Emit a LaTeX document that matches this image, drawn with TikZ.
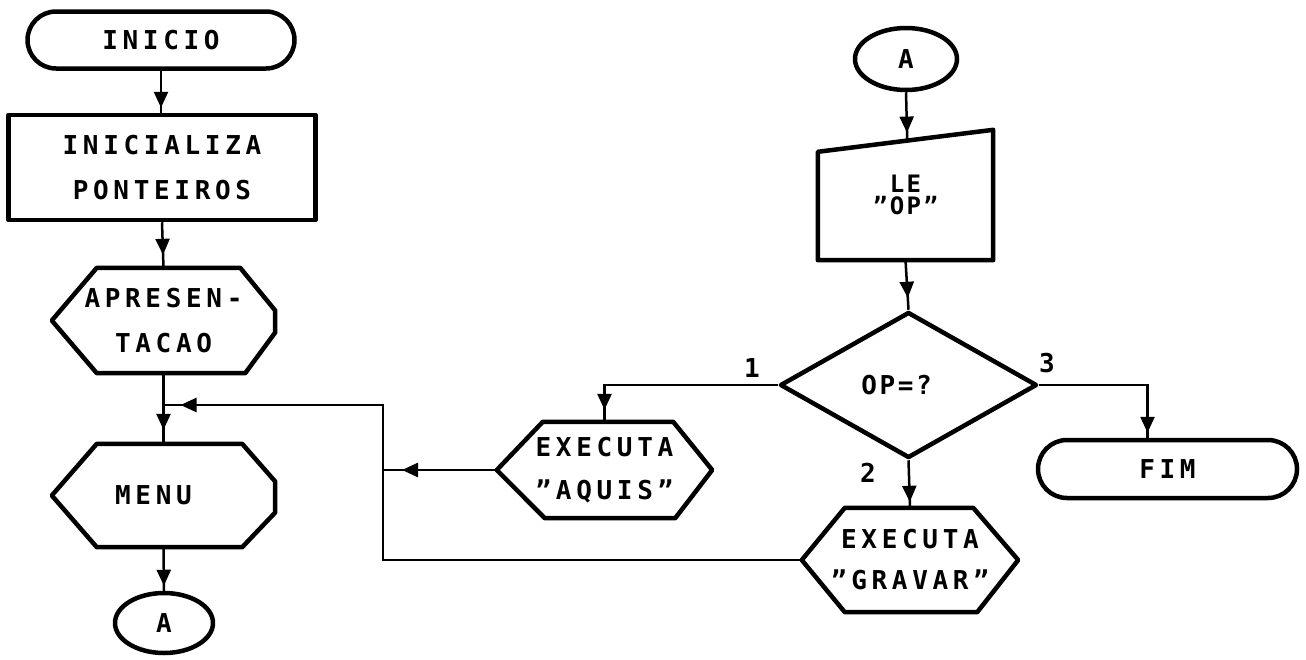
\documentclass[tikz,border=0pt]{standalone}
\usepackage{fontspec}
\usetikzlibrary{arrows.meta,shapes.geometric,shapes.misc,decorations.markings,calc}
\newfontfamily\plotfont[LetterSpace=18]{DejaVu Sans Mono}
\newfontfamily\plotfontnarrow[LetterSpace=10]{DejaVu Sans Mono}
\begin{document}
\begin{tikzpicture}[x=1pt,y=-1pt,
  txt/.style={font=\plotfont\bfseries\fontsize{26}{45}\selectfont, align=center},
  plain/.style={txt, inner sep=0pt},
  outline/.style={line width=4.5pt, line join=round},
  term/.style={plain, draw, outline, rounded rectangle},
  conn/.style={line width=2.5pt},
  tipat/.style={postaction={decorate},
    decoration={markings, mark=at position #1 with {\arrow{Triangle[length=16pt,width=14pt]}}}}]

\fill[white] (0,0) rectangle (1306,659);
\useasboundingbox (0,0) rectangle (1306,659);

% left column
\node[term, minimum width=267pt, minimum height=57pt] (inicio) at (161,40) {INICIO};
\node[plain, draw, outline, minimum width=307pt, minimum height=105pt] (init) at (162,167.5) {INICIALIZA\\PONTEIROS};
\node[plain, minimum width=223pt, minimum height=105pt] (apres) at (163.5,320.5) {APRESEN-\\TACAO};
\node[plain, minimum width=223pt, minimum height=103pt,
      label={[txt,xshift=-10pt]center:MENU}] (menu) at (163.5,495.5) {};
\node[plain, draw, outline, ellipse, minimum width=98pt, minimum height=60pt] (a1) at (164,623) {A};

\draw[outline] (apres.west) -- ([xshift=45pt]apres.north west) -- ([xshift=-35pt]apres.north east)
  -- ([yshift=10pt]apres.east) -- ([yshift=-12pt]apres.east) -- ([xshift=-30pt]apres.south east)
  -- ([xshift=45pt]apres.south west) -- cycle;
\draw[outline] (menu.west) -- ([xshift=45pt]menu.north west) -- ([xshift=-33pt]menu.north east)
  -- ([yshift=14pt]menu.east) -- ([yshift=-17pt]menu.east) -- ([xshift=-33pt]menu.south east)
  -- ([xshift=45pt]menu.south west) -- cycle;

% right part
\node[plain, draw, outline, ellipse, minimum width=102pt, minimum height=62pt] (a2) at (906,59) {A};
\node[plain, font=\plotfontnarrow\bfseries\fontsize{24}{22}\selectfont,
      minimum width=175pt, minimum height=130pt] (le) at (905.5,195) {LE\\”OP”};
\coordinate (lenw) at ([yshift=-22pt]le.north west);
\draw[outline] (lenw) -- (le.north east) -- (le.south east) -- (le.south west) -- cycle;
\coordinate (lein) at ($(lenw)!0.51!(le.north east)$);

\node[plain, draw, outline, diamond, minimum width=257pt, minimum height=146pt,
      label={[txt,font=\plotfontnarrow\bfseries\fontsize{26}{30}\selectfont,xshift=-12pt]center:OP=?}] (dec) at (908.5,385) {};

\node[plain, font=\plotfont\bfseries\fontsize{26}{43}\selectfont,
      minimum width=215pt, minimum height=96pt] (aquis) at (604.5,470) {EXECUTA\\”AQUIS”};
\draw[outline] (aquis.west) -- ([xshift=46pt]aquis.north west) -- ([xshift=-39pt]aquis.north east)
  -- (aquis.east) -- ([xshift=-37pt]aquis.south east) -- ([xshift=48pt]aquis.south west) -- cycle;

\node[plain, font=\plotfont\bfseries\fontsize{26}{41}\selectfont,
      minimum width=216pt, minimum height=104pt] (grav) at (910,560) {EXECUTA\\”GRAVAR”};
\draw[outline] (grav.west) -- ([xshift=43pt]grav.north west) -- ([xshift=-45pt]grav.north east)
  -- (grav.east) -- ([xshift=-41pt]grav.south east) -- ([xshift=43pt]grav.south west) -- cycle;

\node[term, minimum width=259pt, minimum height=58pt] (fim) at (1167.5,469) {FIM};

% branch labels
\node[txt] (l1) at (752,368) {1};
\node[txt] (l2) at (868,473) {2};
\node[txt] (l3) at (1047,363) {3};

% connectors
\coordinate (bus) at (383,405);
\coordinate (join) at (apres.south |- bus);
\draw[conn, tipat=-5pt] (inicio.south) -- (inicio.south |- init.north);
\draw[conn, tipat=-13pt] (init.south) -- (apres.north);
\draw[conn, tipat=-14pt] (apres.south) -- (menu.north);
\draw[conn, tipat=-5pt] (menu.south) -- (a1.north);
\draw[conn, tipat=-17pt] (grav.west) -| (bus) -- (join);
\draw[conn, tipat=-19pt] (aquis.west) -- (aquis.west -| bus);
\draw[conn, tipat=-8pt] (a2.south) -- (lein);
\draw[conn, tipat=-12pt] (le.south) -- (dec.north);
\draw[conn, tipat=-12pt] (dec.west) -| (aquis.north);
\draw[conn, tipat=-6pt] (dec.south) -- (grav.north);
\draw[conn, tipat=-5pt] (dec.east) -| ([xshift=-20pt]fim.north);
\end{tikzpicture}
\end{document}
